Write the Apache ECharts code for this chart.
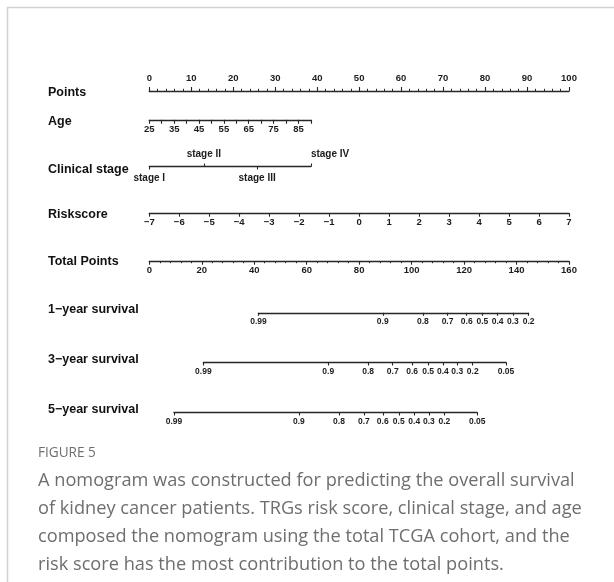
<!DOCTYPE html>
<html>
<head>
<meta charset="utf-8">
<script src="https://cdn.jsdelivr.net/npm/echarts@6/dist/echarts.min.js"></script>
<style>
  html, body { margin: 0; padding: 0; background: #ffffff; }
  #chart { width: 614px; height: 582px; }
</style>
</head>
<body>
<div id="chart"></div>
<script>
// ---- Nomogram scales ----
const pointsRange = [0, 100];
const pointsStep = 10;

const ageRange = [25, 90];
const agePointsRange = [0, 38.5];
const ageStep = 5;
const ageLabelValues = [25, 35, 45, 55, 65, 75, 85];

const stageNames = ['stage I', 'stage II', 'stage III', 'stage IV'];
const stagePoints = [0, 13.0, 25.7, 38.5];

const riskRange = [-7, 7];
const riskStep = 1;

const totalRange = [0, 160];
const totalStep = 20;

// survival probability ticks, placed on the total-points scale
const surv1Labels = ['0.99', '0.9', '0.8', '0.7', '0.6', '0.5', '0.4', '0.3', '0.2'];
const surv1Totals = [41.6, 89.0, 104.3, 113.7, 121.0, 127.0, 132.8, 138.6, 144.6];
const surv3Labels = ['0.99', '0.9', '0.8', '0.7', '0.6', '0.5', '0.4', '0.3', '0.2', '0.1', '0.05'];
const surv3Totals = [20.6, 68.2, 83.4, 92.8, 100.2, 106.3, 111.9, 117.4, 123.3, 130.7, 136.0];
const surv5Labels = ['0.99', '0.9', '0.8', '0.7', '0.6', '0.5', '0.4', '0.3', '0.2', '0.1', '0.05'];
const surv5Totals = [9.4, 57.0, 72.3, 81.8, 89.0, 95.1, 101.0, 106.6, 112.5, 119.9, 125.0];

const rowNames = ['Points', 'Age', 'Clinical stage', 'Riskscore', 'Total Points',
                  '1\u2212year survival', '3\u2212year survival', '5\u2212year survival'];

const captionHead = 'FIGURE 5';
const captionLines = [
  'A nomogram was constructed for predicting the overall survival',
  'of kidney cancer patients. TRGs risk score, clinical stage, and age',
  'composed the nomogram using the total TCGA cohort, and the',
  'risk score has the most contribution to the total points.'
];

// ---- Layout ----
const X0 = 149.3, X1 = 569;           // horizontal extent of the Points scale
const W = X1 - X0;
const rowLineY = [90.5, 119.3, 166, 212.7, 260.7, 312.3, 362, 412];
const rowLabelY = [93, 122, 169.3, 215, 262, 310, 360, 410];

const FONT = '"Liberation Sans", Arial, Helvetica, sans-serif';
const INK = '#1c1c1c';
const LINE = { show: true, lineStyle: { color: '#262626', width: 1.3 } };

const grids = [], xAxes = [], yAxes = [];

// one thin grid per nomogram row, spanning [fa, fb] of the Points scale width
function addGrid(lineY, fa, fb) {
  const idx = grids.length;
  grids.push({
    left: X0 + fa * W, width: (fb - fa) * W,
    top: lineY - 0.5, height: 1,
    containLabel: false, outerBoundsMode: 'none'
  });
  yAxes.push({ gridIndex: idx, show: false, min: 0, max: 1 });
  return idx;
}

function labelStyle(size, margin, extra) {
  return Object.assign({
    show: true, fontSize: size, fontWeight: 'bold', fontFamily: FONT,
    color: INK, margin: margin, showMinLabel: true, showMaxLabel: true, hideOverlap: false
  }, extra || {});
}

function baseAxis(gi, pos, min, max) {
  return { gridIndex: gi, type: 'value', position: pos, min: min, max: max,
           splitLine: { show: false }, axisLine: LINE };
}

// Points
(function () {
  const gi = addGrid(rowLineY[0], 0, 1);
  xAxes.push(Object.assign(baseAxis(gi, 'top', pointsRange[0], pointsRange[1]), {
    interval: pointsStep,
    axisTick: { show: true, length: 4, lineStyle: { color: '#262626', width: 1.1 } },
    minorTick: { show: true, splitNumber: 5, length: 2.2, lineStyle: { color: '#262626', width: 1 } },
    axisLabel: labelStyle(9.5, 6.5)
  }));
})();

// Age
(function () {
  const gi = addGrid(rowLineY[1], agePointsRange[0] / 100, agePointsRange[1] / 100);
  xAxes.push(Object.assign(baseAxis(gi, 'bottom', ageRange[0], ageRange[1]), {
    interval: ageStep,
    axisTick: { show: true, length: 4, lineStyle: { color: '#262626', width: 1.1 } },
    axisLabel: labelStyle(9.5, 4.5, { customValues: ageLabelValues })
  }));
})();

// Clinical stage: labels alternate above / below the line
(function () {
  const pMax = stagePoints[stagePoints.length - 1];
  const gi = addGrid(rowLineY[2], 0, pMax / 100);
  const above = stagePoints.filter((_, i) => i % 2 === 1);
  const below = stagePoints.filter((_, i) => i % 2 === 0);
  const name = v => stageNames[stagePoints.indexOf(v)];
  xAxes.push(Object.assign(baseAxis(gi, 'top', 0, pMax), {
    axisTick: { show: true, length: 3, customValues: above, lineStyle: { color: '#262626', width: 1.1 } },
    axisLabel: labelStyle(10, 6, { customValues: above, formatter: name, alignMaxLabel: 'left' })
  }));
  xAxes.push(Object.assign(baseAxis(gi, 'bottom', 0, pMax), {
    axisLine: { show: false },
    axisTick: { show: true, length: 3, customValues: below, lineStyle: { color: '#262626', width: 1.1 } },
    axisLabel: labelStyle(10, 7, { customValues: below, formatter: name })
  }));
})();

// Riskscore
(function () {
  const gi = addGrid(rowLineY[3], 0, 1);
  xAxes.push(Object.assign(baseAxis(gi, 'bottom', riskRange[0], riskRange[1]), {
    interval: riskStep,
    axisTick: { show: true, length: 3.5, lineStyle: { color: '#262626', width: 1.1 } },
    axisLabel: labelStyle(9.5, 4.5, { formatter: v => String(v).replace('-', '\u2212') })
  }));
})();

// Total Points
(function () {
  const gi = addGrid(rowLineY[4], 0, 1);
  xAxes.push(Object.assign(baseAxis(gi, 'bottom', totalRange[0], totalRange[1]), {
    interval: totalStep,
    axisTick: { show: true, length: 3.5, lineStyle: { color: '#262626', width: 1.1 } },
    minorTick: { show: true, splitNumber: 5, length: 2, lineStyle: { color: '#262626', width: 1 } },
    axisLabel: labelStyle(9.5, 4.5)
  }));
})();

// Survival probability axes on the total-points scale
[[surv1Totals, surv1Labels], [surv3Totals, surv3Labels], [surv5Totals, surv5Labels]].forEach(function (s, k) {
  const totals = s[0], labels = s[1];
  const lo = totals[0], hi = totals[totals.length - 1];
  const span = totalRange[1] - totalRange[0];
  const gi = addGrid(rowLineY[5 + k], (lo - totalRange[0]) / span, (hi - totalRange[0]) / span);
  xAxes.push(Object.assign(baseAxis(gi, 'bottom', lo, hi), {
    axisTick: { show: true, length: 3, customValues: totals, lineStyle: { color: '#262626', width: 1.1 } },
    axisLabel: labelStyle(8.5, 4.5, { customValues: totals, formatter: v => labels[totals.indexOf(v)] })
  }));
});

// ---- Text and frame ----
const graphics = [
  { type: 'line', shape: { x1: 7, y1: 7.5, x2: 614, y2: 7.5 }, style: { stroke: '#d2d2d2', lineWidth: 1.6 } },
  { type: 'line', shape: { x1: 7.5, y1: 7, x2: 7.5, y2: 582 }, style: { stroke: '#d2d2d2', lineWidth: 1.6 } }
];
rowNames.forEach(function (n, i) {
  graphics.push({ type: 'text', x: 48, y: rowLabelY[i],
    style: { text: n, fill: '#111111', font: 'bold 12.5px ' + FONT, verticalAlign: 'middle', align: 'left' } });
});
graphics.push({ type: 'text', x: 38, y: 453,
  style: { text: captionHead, fill: '#6e6e6e', font: '13.6px "Open Sans", sans-serif', verticalAlign: 'middle' } });
captionLines.forEach(function (t, i) {
  graphics.push({ type: 'text', x: 38, y: 481 + i * 27.8,
    style: { text: t, fill: '#6e6e6e', font: '18.2px "Open Sans", sans-serif', verticalAlign: 'middle' } });
});

const chart = echarts.init(document.getElementById('chart'), null, { renderer: 'canvas' });
chart.setOption({
  animation: false,
  backgroundColor: '#ffffff',
  grid: grids,
  xAxis: xAxes,
  yAxis: yAxes,
  series: [],
  graphic: graphics
});
</script>
</body>
</html>
